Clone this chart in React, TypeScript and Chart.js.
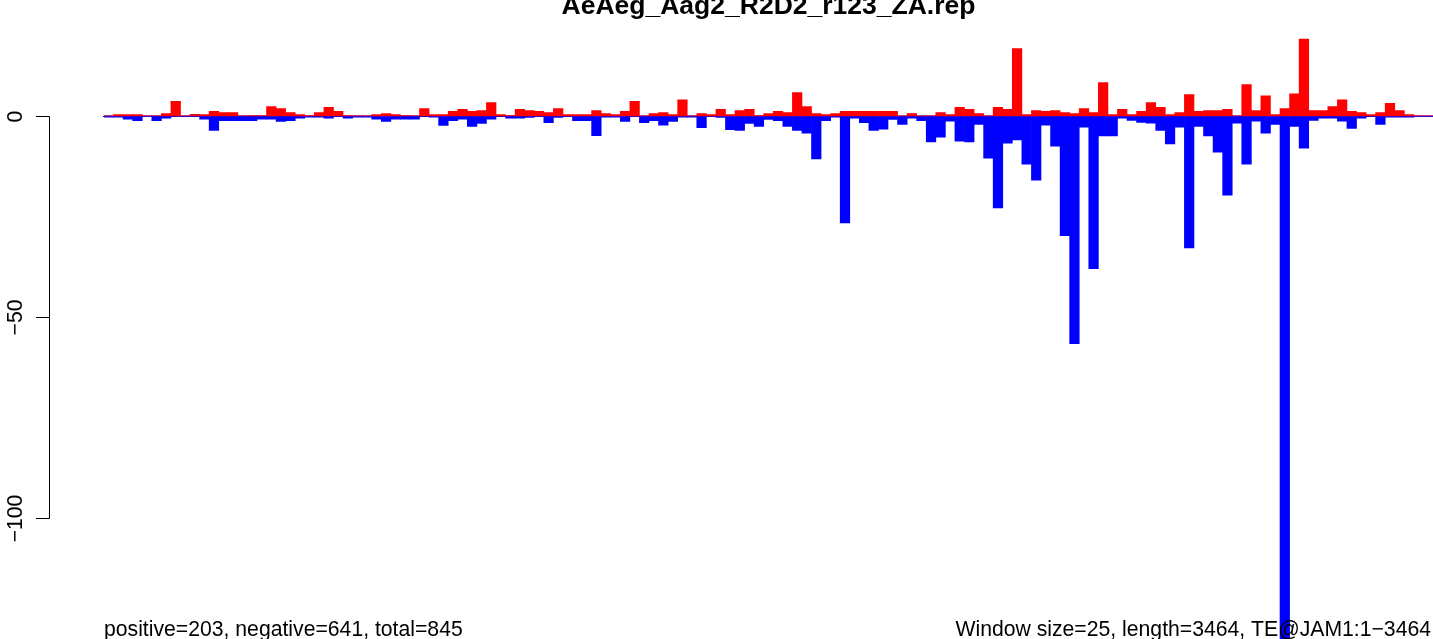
import React, { useEffect, useRef } from "react";
import { Chart, registerables } from "chart.js";

Chart.register(...registerables);

const TITLE = "AeAeg_Aag2_R2D2_r123_ZA.rep";
const FOOT_LEFT = "positive=203, negative=641, total=845";
const FOOT_RIGHT = "Window size=25, length=3464, TE@JAM1:1\u22123464";
const Y_TICKS = [0, -50, -100];
const Y_TICK_LABELS = ["0", "\u221250", "\u2212100"];

const POSITIVE = [
  0, 0.3, 0.3, 0.3, 0, 0, 0.6, 3.6, 0, 0.3,
  0.3, 1.1, 0.8, 0.8, 0, 0.1, 0.1, 2.3, 1.8, 0.8,
  0.3, 0.1, 0.8, 2.1, 1.1, 0.1, 0, 0, 0.3, 0.6,
  0.3, 0.1, 0, 1.8, 0.3, 0.3, 1.1, 1.6, 1.1, 1.3,
  3.3, 0.3, 0.1, 1.6, 1.3, 1.1, 0.8, 1.8, 0.3, 0.3,
  0.3, 1.3, 0.6, 0.3, 1.1, 3.6, 0, 0.6, 0.8, 0.3,
  4.0, 0, 0.6, 0.3, 1.6, 0.3, 1.3, 1.6, 0.1, 0.6,
  1.1, 0.8, 5.8, 2.3, 0.6, 0.3, 0.6, 1.1, 1.1, 1.1,
  1.1, 1.1, 1.1, 0, 0.6, 0, 0, 0.8, 0.3, 2.1,
  1.6, 0.6, 0, 2.1, 1.6, 16.7, 0.3, 1.3, 1.1, 1.3,
  0.8, 0.6, 1.8, 0.8, 8.3, 0.3, 1.6, 0.3, 1.1, 3.3,
  2.1, 0.3, 0.8, 5.3, 1.1, 1.3, 1.3, 1.6, 0, 7.8,
  1.3, 5.0, 0.3, 1.8, 5.5, 19.1, 1.3, 1.3, 2.3, 4.0,
  1.1, 0.8, 0.3, 0.8, 3.1, 1.3, 0.3, 0, 0,
];

const NEGATIVE = [
  -0.3, -0.3, -0.8, -1.2, -0.1, -1.2, -0.6, 0, -0.1, 0,
  -0.8, -3.6, -1.2, -1.2, -1.2, -1.2, -0.8, -0.8, -1.4, -1.2,
  -0.6, -0.3, -0.3, -0.6, -0.2, -0.6, -0.3, -0.3, -0.8, -1.4,
  -0.8, -0.8, -0.8, -0.2, -0.3, -2.4, -1.2, -0.8, -2.6, -1.9,
  -0.8, -0.2, -0.6, -0.6, -0.4, -0.2, -1.7, -0.4, -0.2, -1.2,
  -1.2, -4.9, -0.3, -0.3, -1.4, -0.2, -1.7, -1.2, -2.3, -1.4,
  -0.3, -0.3, -2.9, -0.2, -0.4, -3.4, -3.6, -1.9, -2.6, -0.9,
  -1.2, -2.6, -3.6, -4.3, -10.7, -1.2, -0.3, -26.6, -0.6, -1.7,
  -3.6, -3.3, -0.9, -2.1, -0.6, -1.2, -6.5, -5.3, -1.3, -6.3,
  -6.5, -2.1, -10.5, -22.9, -6.8, -6.0, -12.0, -16.0, -2.3, -7.5,
  -29.8, -56.6, -2.8, -38.0, -5.0, -5.0, -0.6, -1.1, -1.6, -1.8,
  -3.6, -7.0, -2.8, -32.8, -2.6, -5.0, -9.0, -19.7, -1.8, -12.0,
  -1.3, -4.3, -2.1, -131, -2.6, -8.0, -1.1, -0.6, -0.6, -1.3,
  -3.1, -0.6, -0.2, -2.1, -0.3, -0.3, -0.3, 0, 0,
];

const WINDOW_STARTS = POSITIVE.map((_, i) => String(1 + 25 * i));

const FONT = "'Liberation Sans', Arial, Helvetica, sans-serif";

export default function App() {
  const ref = useRef<HTMLCanvasElement | null>(null);

  useEffect(() => {
    document.body.style.margin = "0";
    const canvas = ref.current;
    if (!canvas) return;

    const decorations = {
      id: "rDecorations",
      beforeDatasetsDraw(chart: any) {
        const ctx = chart.ctx;
        const y = chart.scales.y;
        const py = Math.round(y.getPixelForValue(0)) + 0.5;
        ctx.save();
        ctx.strokeStyle = "#0000ff";
        ctx.lineWidth = 1;
        ctx.beginPath();
        ctx.moveTo(103, py);
        ctx.lineTo(chart.width, py);
        ctx.stroke();
        ctx.restore();
      },
      afterDraw(chart: any) {
        const ctx = chart.ctx;
        const y = chart.scales.y;
        const area = chart.chartArea;
        ctx.save();
        // y axis
        ctx.strokeStyle = "#000";
        ctx.lineWidth = 1;
        const ax = 49.5;
        ctx.beginPath();
        ctx.moveTo(ax, Math.round(y.getPixelForValue(Y_TICKS[0])) + 0.5);
        ctx.lineTo(ax, Math.round(y.getPixelForValue(Y_TICKS[Y_TICKS.length - 1])) + 0.5);
        ctx.stroke();
        ctx.fillStyle = "#000";
        ctx.font = `21.2px ${FONT}`;
        Y_TICKS.forEach((v, k) => {
          const p = Math.round(y.getPixelForValue(v)) + 0.5;
          ctx.beginPath();
          ctx.moveTo(36, p);
          ctx.lineTo(ax, p);
          ctx.stroke();
          ctx.save();
          ctx.translate(22, p);
          ctx.rotate(-Math.PI / 2);
          ctx.textAlign = "center";
          ctx.textBaseline = "alphabetic";
          ctx.fillText(Y_TICK_LABELS[k], 0, 0);
          ctx.restore();
        });
        // title
        ctx.font = `bold 26.5px ${FONT}`;
        ctx.textAlign = "center";
        ctx.textBaseline = "alphabetic";
        ctx.fillText(TITLE, (area.left + area.right) / 2, 14);
        // footers
        ctx.font = `21.2px ${FONT}`;
        ctx.textAlign = "left";
        ctx.fillText(FOOT_LEFT, 104, 636);
        ctx.textAlign = "right";
        ctx.fillText(FOOT_RIGHT, 1431, 636);
        ctx.restore();
      },
    };

    const chart = new Chart(canvas, {
      type: "bar",
      data: {
        labels: WINDOW_STARTS,
        datasets: [
          {
            label: "positive",
            data: POSITIVE,
            backgroundColor: "#ff0000",
            borderWidth: 0,
            categoryPercentage: 1,
            barPercentage: 1,
          },
          {
            label: "negative",
            data: NEGATIVE,
            backgroundColor: "#0000ff",
            borderWidth: 0,
            categoryPercentage: 1,
            barPercentage: 1,
          },
        ],
      },
      options: {
        responsive: false,
        animation: false,
        devicePixelRatio: 1,
        layout: { padding: { left: 104, right: 0, top: 19.3, bottom: 0 } },
        plugins: {
          legend: { display: false },
          tooltip: { enabled: false },
          title: { display: false },
        },
        scales: {
          x: { display: false, stacked: true, offset: true, grid: { display: false } },
          y: { display: false, stacked: true, min: -130, max: 24, grid: { display: false } },
        },
      },
      plugins: [decorations],
    });

    return () => chart.destroy();
  }, []);

  return <canvas ref={ref} width={1433} height={639} style={{ display: "block" }} />;
}
